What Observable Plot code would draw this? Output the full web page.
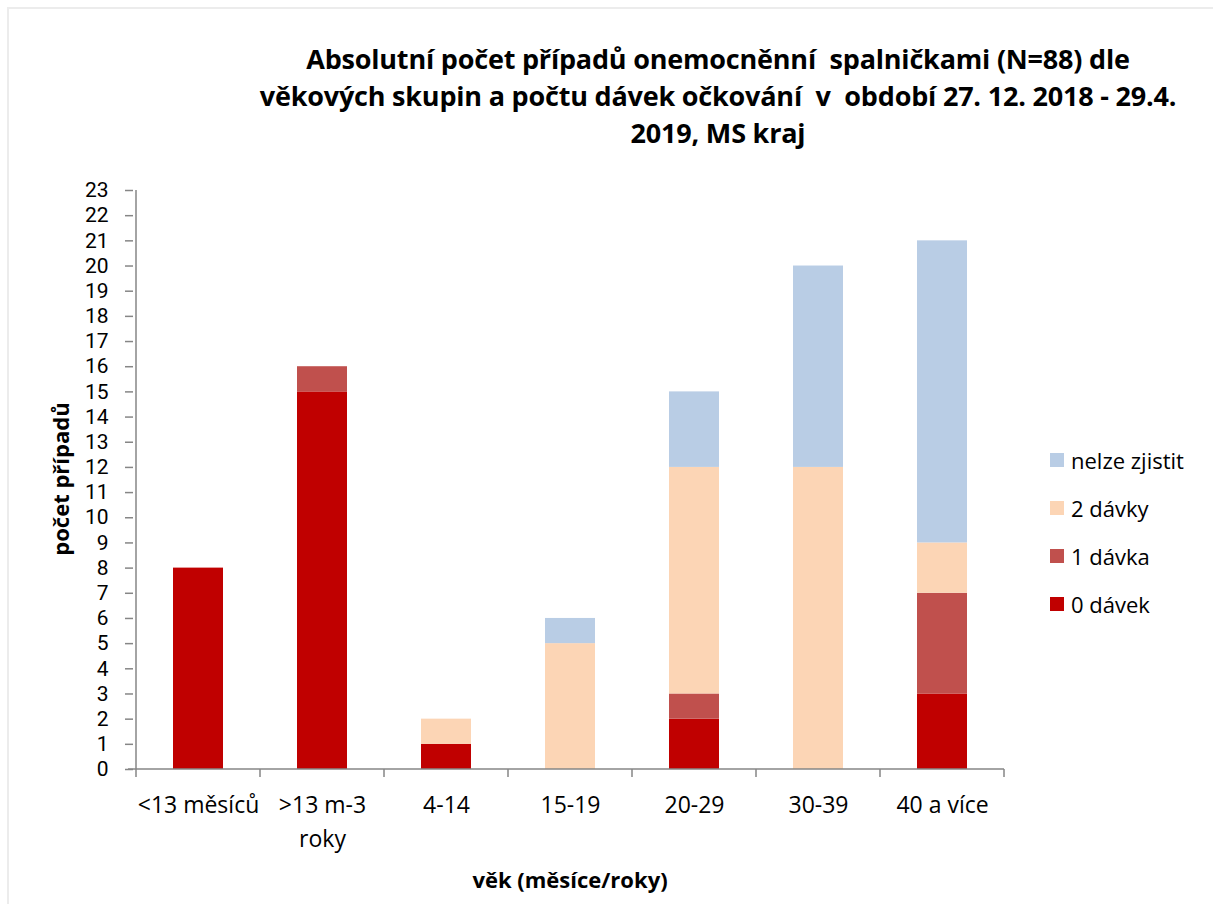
<!DOCTYPE html>
<html><head><meta charset="utf-8">
<script src="https://cdn.jsdelivr.net/npm/d3@7"></script>
<script src="https://cdn.jsdelivr.net/npm/@observablehq/plot@0.6"></script>
<style>
body{margin:0;background:#fff;font-family:"Open Sans",Lato,sans-serif;color:#000;}
#wrap{position:relative;width:1213px;height:904px;overflow:hidden;background:#fff}
#border{position:absolute;left:7px;top:7px;width:1300px;height:1000px;border-left:2px solid #ececec;border-top:2px solid #ececec;}
#title{position:absolute;left:218px;width:1000px;top:40px;text-align:center;font-weight:bold;font-size:27px;line-height:37px;white-space:pre;letter-spacing:-0.2px}
#ylab{position:absolute;left:60px;top:479px;transform:translate(-50%,-50%) rotate(-90deg);font-weight:bold;font-size:22px;white-space:nowrap}
#xlab{position:absolute;left:570px;top:879px;transform:translate(-50%,-50%);font-weight:bold;font-size:22px;white-space:nowrap}
#legend{position:absolute;left:1050px;top:436px;font-size:22px}
.li{display:flex;align-items:center;height:48px;margin:0}
.sw{width:14px;height:14px;margin-right:7px}
#chart{position:absolute;left:0;top:0}
</style></head>
<body><div id="wrap"><div id="border"></div><div id="chart"></div>
<div id="title"></div><div id="ylab"></div><div id="xlab"></div><div id="legend"></div></div>
<script>
const categories = ["<13 měsíců", ">13 m-3 roky", "4-14", "15-19", "20-29", "30-39", "40 a více"];
const tickLabels = ["<13 měsíců", ">13 m-3\nroky", "4-14", "15-19", "20-29", "30-39", "40 a více"];
const seriesNames = ["0 dávek", "1 dávka", "2 dávky", "nelze zjistit"];
const seriesColors = ["#C00000", "#C0504D", "#FCD5B5", "#B9CDE5"];
const dose0 = [8, 15, 1, 0, 2, 0, 3];
const dose1 = [0, 1, 0, 0, 1, 0, 4];
const dose2 = [0, 0, 1, 5, 9, 12, 2];
const unknown = [0, 0, 0, 1, 3, 8, 12];
const yTicks = d3.range(0, 24);
const titleLines = ["Absolutní počet případů onemocněnní  spalničkami (N=88) dle", "věkových skupin a počtu dávek očkování  v  období 27. 12. 2018 - 29.4.", "2019, MS kraj"];
const yTitle = "počet případů";
const xTitle = "věk (měsíce/roky)";

const series = [dose0, dose1, dose2, unknown];
const data = [];
categories.forEach((c, i) => series.forEach((s, j) => data.push({cat: c, series: seriesNames[j], value: s[i]})));

document.getElementById("title").textContent = titleLines.join("\n");
document.getElementById("ylab").textContent = yTitle;
document.getElementById("xlab").textContent = xTitle;
const leg = document.getElementById("legend");
[...seriesNames].reverse().forEach((n) => {
  const j = seriesNames.indexOf(n);
  const d = document.createElement("div"); d.className = "li";
  d.innerHTML = `<div class="sw" style="background:${seriesColors[j]}"></div><span></span>`;
  d.querySelector("span").textContent = n;
  leg.appendChild(d);
});

const axisColor = "#868686";
const plot = Plot.plot({
  width: 1020, height: 900,
  marginLeft: 133, marginRight: 13, marginTop: 190, marginBottom: 131,
  style: {fontFamily: '"Open Sans", Lato, sans-serif', fontSize: "23px", color: "#000", background: "transparent", overflow: "visible"},
  x: {domain: categories, paddingInner: 0.6, paddingOuter: 0.3, axis: null},
  y: {domain: [0, 23], axis: null},
  color: {domain: seriesNames, range: seriesColors},
  marks: [
    Plot.barY(data, {x: "cat", y: "value", fill: "series", order: seriesNames}),
    Plot.axisY({ticks: yTicks, tickSize: 8, tickPadding: 17, tickFormat: d => String(d), label: null, stroke: axisColor, strokeWidth: 1.5, fill: "#000", fontSize: 21, fontFamily: "Roboto, sans-serif"}),
    Plot.text(categories, {x: d => d, text: (d, i) => tickLabels[i], frameAnchor: "bottom", lineAnchor: "top", dy: 20, lineHeight: 1.45, fill: "#000", fontSize: 23})
  ]
});
document.getElementById("chart").appendChild(plot);

const xs = plot.scale("x"), ys = plot.scale("y");
const svg = d3.select(plot);
const y0 = ys.apply(0), yTop = ys.apply(23);
const step = xs.step;
const firstCenter = xs.apply(categories[0]) + xs.bandwidth / 2;
const left = firstCenter - step / 2, right = left + step * categories.length;
const g = svg.append("g").attr("stroke", axisColor).attr("stroke-width", 1.5);
g.append("line").attr("x1", left).attr("x2", left).attr("y1", yTop).attr("y2", y0);
g.append("line").attr("x1", left - 8).attr("x2", right).attr("y1", y0).attr("y2", y0);
for (let k = 0; k <= categories.length; k++) {
  const x = left + k * step;
  g.append("line").attr("x1", x).attr("x2", x).attr("y1", y0).attr("y2", y0 + 8);
}
</script></body></html>
